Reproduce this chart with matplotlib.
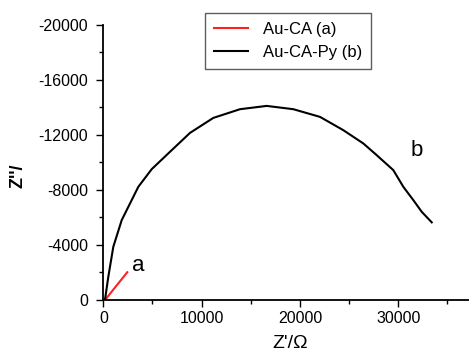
import matplotlib
matplotlib.use("Agg")
import matplotlib.pyplot as plt
from matplotlib.ticker import MultipleLocator

plt.rcParams['font.family'] = ['Liberation Sans', 'DejaVu Sans']

# Data (Nyquist plots)
a_zre = [0, 200, 1200, 2440]
a_zim = [0, 0, -900, -2000]

b_zre = [170, 509, 1017, 1872, 3560, 4924, 6958, 8820, 11190, 13906, 16620,
         19330, 22045, 24415, 26450, 27810, 29500, 30520, 31536, 32390, 33410]
b_zim = [0, -1673, -3855, -5796, -8218, -9505, -10887, -12145, -13236, -13869, -14109,
         -13869, -13309, -12342, -11375, -10524, -9433, -8218, -7250, -6400, -5630]

series_labels = ["Au-CA (a)", "Au-CA-Py (b)"]
yticks = [0, -4000, -8000, -12000, -16000, -20000]
xticks = [0, 10000, 20000, 30000]

fig = plt.figure(figsize=(4.69, 3.54), dpi=100)
ax = fig.add_axes([0.2203, 0.1534, 0.7797, 0.776])

ax.plot(a_zre, a_zim, color='#ff2020', lw=1.5, label=series_labels[0])
ax.plot(b_zre, b_zim, color='black', lw=1.5, label=series_labels[1])

ax.set_xlim(0, 37200)
ax.set_ylim(0, -20000)
ax.set_xticks(xticks)
ax.set_yticks(yticks)
ax.set_yticklabels([str(v) for v in yticks])
ax.xaxis.set_minor_locator(MultipleLocator(5000))
ax.yaxis.set_minor_locator(MultipleLocator(2000))
ax.tick_params(which='major', direction='out', length=5, width=1, labelsize=11.5, pad=3)
ax.tick_params(axis='y', which='major', pad=6)
ax.tick_params(which='minor', direction='out', length=3, width=1)
for s in ['top', 'right']:
    ax.spines[s].set_visible(False)
for s in ['left', 'bottom']:
    ax.spines[s].set_linewidth(1.3)

ax.text(3530, -2524, 'a', fontsize=16, ha='center', va='center')
ax.text(31900, -10890, 'b', fontsize=16, ha='center', va='center')

leg = ax.legend(loc='upper left',
                bbox_to_anchor=((205 - 103.3) / 365.7, 1.0 + (25 - 13) / 274.7),
                borderaxespad=0,
                fontsize=12, frameon=True, fancybox=False, edgecolor='#333333',
                handlelength=2.0, borderpad=0.55, labelspacing=0.45, handletextpad=0.9)
leg.get_frame().set_linewidth(1.0)

fig.text(290 / 469, 1 - 344 / 354, "Z'/Ω", fontsize=14, ha='center', va='center')
fig.text(18 / 469, 1 - 176 / 354, "Z''/", fontsize=13, fontweight='bold', rotation=90,
         ha='center', va='center')

fig.savefig('out.png', dpi=100)
